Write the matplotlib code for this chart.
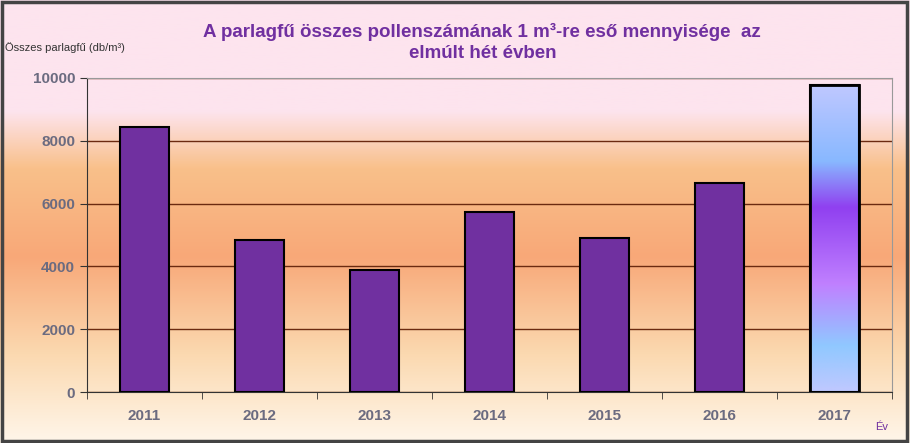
import numpy as np
import matplotlib
matplotlib.use("Agg")
import matplotlib.pyplot as plt
from matplotlib.colors import LinearSegmentedColormap

years = ["2011", "2012", "2013", "2014", "2015", "2016", "2017"]
values = [8440, 4840, 3880, 5730, 4900, 6650, 9780]
yticks = [0, 2000, 4000, 6000, 8000, 10000]

fig = plt.figure(figsize=(9.10, 4.43), dpi=100)
bg = fig.add_axes([0, 0, 1, 1], zorder=0)
bgcm = LinearSegmentedColormap.from_list("bg", [(0, "#fff6ea"), (0.2, "#fbd9b0"), (0.42, "#f8a878"),
                                               (0.62, "#f9c08a"), (0.75, "#fde4ee"), (1, "#fde4ee")])
bg.imshow(np.linspace(0, 1, 256).reshape(-1, 1), aspect="auto", cmap=bgcm, origin="lower",
          extent=[0, 1, 0, 1])
bg.set_axis_off()
frame = plt.Rectangle((0.002, 0.004), 0.995, 0.992, transform=fig.transFigure, fill=False,
                      edgecolor="#444444", lw=2.5, zorder=10)
fig.patches.append(frame)

ax = fig.add_axes([87/910, 1-392/443, (892-87)/910, (392-78)/443], zorder=1)
ax.patch.set_alpha(0)
x = np.arange(len(years))
colors = ["#7030a0"] * 6 + ["none"]
bars = ax.bar(x, values, width=0.42, color=colors, edgecolor="black", lw=1.5, zorder=3)
b = bars[-1]
barcm = LinearSegmentedColormap.from_list("bar", [(0, "#c0c8ff"), (0.15, "#90c8ff"), (0.35, "#c080ff"),
                                                  (0.6, "#9040f0"), (0.75, "#88b8ff"), (1, "#c0c8ff")])
im = ax.imshow(np.linspace(0, 1, 256).reshape(-1, 1), aspect="auto", cmap=barcm, origin="lower",
               extent=[b.get_x(), b.get_x() + b.get_width(), 0, b.get_height()], zorder=2)
im.set_clip_path(b)
ax.bar([x[-1]], [values[-1]], width=0.42, color="none", edgecolor="black", lw=2, zorder=4)
ax.set_xlim(-0.5, len(years) - 0.5)
ax.set_ylim(0, 10000)
ax.set_yticks(yticks)
ax.set_xticks(x)
ax.set_xticklabels(years)
ax.set_xticks(np.arange(-0.5, len(years)), minor=True)
ax.tick_params(axis="x", which="major", length=0, pad=12)
ax.tick_params(axis="x", which="minor", length=5, color="#333333")
ax.tick_params(axis="y", length=5, color="#333333")
for lab in ax.get_xticklabels() + ax.get_yticklabels():
    lab.set_color("#6b6b80"); lab.set_fontweight("bold"); lab.set_fontsize(11); lab.set_family("Liberation Sans")
ax.grid(axis="y", color="#6b2a10", lw=1, zorder=1)
for s in ["top", "right"]:
    ax.spines[s].set_color("#999999"); ax.spines[s].set_linewidth(0.8)
for s in ["left", "bottom"]:
    ax.spines[s].set_color("#333333")

fig.text(0.53, 0.905, "A parlagfű összes pollenszámának 1 m³-re eső mennyisége  az\nelmúlt hét évben",
         ha="center", va="center", fontsize=13.5, fontweight="bold", color="#7030a0",
         family="Liberation Sans", linespacing=1.3)
fig.text(0.006, 0.885, "Összes parlagfű (db/m³)", fontsize=8, color="#333333", family="Liberation Sans")
fig.text(0.962, 0.03, "Év", fontsize=8, color="#7030a0", family="Liberation Sans")
fig.savefig("out.png", dpi=100)
